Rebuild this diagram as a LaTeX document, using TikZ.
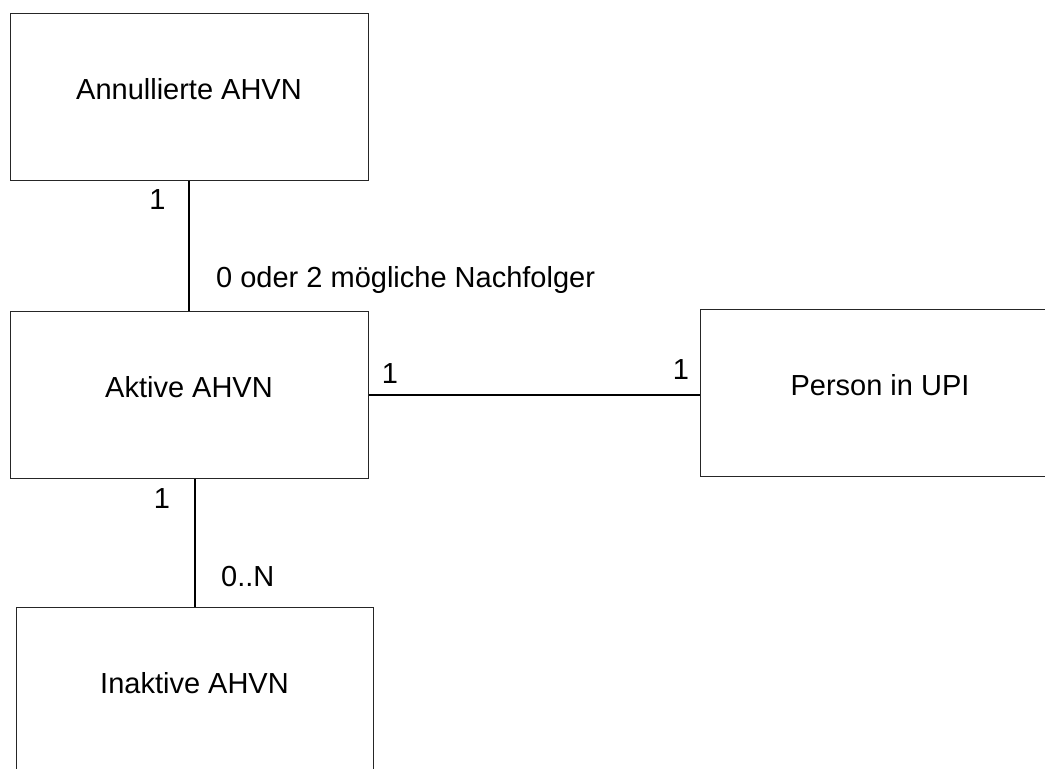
\documentclass[tikz,border=0pt]{standalone}
\usepackage{fontspec}
\setmainfont{Liberation Sans}
\begin{document}
\begin{tikzpicture}[x=1pt,y=-1pt,
  entity/.style={draw=black!85, line width=1pt, rectangle, inner sep=0pt,
    font=\fontsize{29}{34}\selectfont, text height=21pt, text depth=16pt},
  conn/.style={draw=black, line width=2pt},
  lbl/.style={inner sep=0pt, anchor=base, font=\fontsize{29}{34}\selectfont}]
\useasboundingbox (0,0) rectangle (1045,769);
\node[entity, minimum width=358pt, minimum height=167pt] (ann) at (189,96.5) {Annullierte AHVN};
\node[entity, minimum width=358pt, minimum height=167pt] (akt) at (189,394.5) {Aktive AHVN};
\node[entity, minimum width=360pt, minimum height=167pt] (per) at (880,392.5) {Person in UPI};
\node[entity, minimum width=357pt, minimum height=168pt] (ina) at (194.5,691) {Inaktive AHVN};
\draw[conn] (ann) -- (akt);
\draw[conn] (akt.east) -- (per.west |- akt.east);
\draw[conn] (ina.north |- akt.south) -- (ina.north);
\node[lbl] (l1) at (157.5,209) {1};
\node[lbl, anchor=base west] (l2) at (216,287) {0 oder 2 mögliche Nachfolger};
\node[lbl] (l3) at (390,383) {1};
\node[lbl] (l4) at (681,379) {1};
\node[lbl] (l5) at (162,508) {1};
\node[lbl, anchor=base west] (l6) at (221,586) {0..N};
\end{tikzpicture}
\end{document}
